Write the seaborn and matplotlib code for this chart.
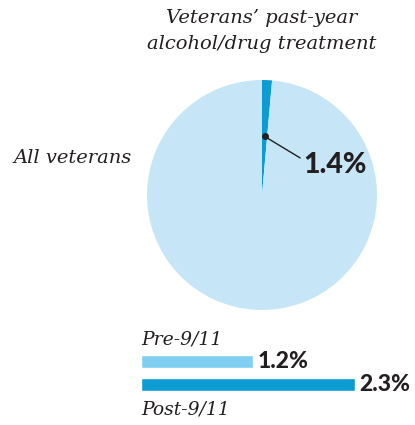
import numpy as np
import pandas as pd
import matplotlib
matplotlib.use("Agg")
import matplotlib.pyplot as plt
import seaborn as sns

# ---------------------------------------------------------------------------
# Data
# ---------------------------------------------------------------------------
PIE_LABELS = ["Treatment", "Other"]
PIE_VALUES = [1.4, 98.6]
BAR_GROUPS = ["Pre-9/11", "Post-9/11"]
BAR_VALUES = [1.2, 2.3]

TITLE      = "Veterans\u2019 past-year\nalcohol/drug treatment"
PIE_NAME   = "All veterans"

DARK   = "#0c9bd3"
LIGHT  = "#c6e6f8"
PRE    = "#7ecff2"
INK    = "#231f20"

W, H = 415, 425
SERIF = ["DejaVu Serif"]
BOLD  = ["Lato", "DejaVu Sans"]

sns.set_theme(style="white")
plt.rcParams["font.family"] = ["DejaVu Sans"]

fig = plt.figure(figsize=(W / 100, H / 100), dpi=100)


def px_axes(left, top, width, height):
    return fig.add_axes([left / W, (H - top - height) / H, width / W, height / H])


# ---------------------------------------------------------------------------
# Pie
# ---------------------------------------------------------------------------
cx, cy, r = 262, 195, 115
ax = px_axes(cx - r, cy - r, 2 * r, 2 * r)
ax.pie(PIE_VALUES, colors=[DARK, LIGHT], startangle=90, counterclock=False,
       radius=1, wedgeprops=dict(linewidth=0))
ax.set_xlim(-1, 1)
ax.set_ylim(-1, 1)
ax.set_aspect("equal")
ax.axis("off")

share = PIE_VALUES[0] / sum(PIE_VALUES)
mid = np.deg2rad(90 - 360 * share / 2)
dot = (0.51 * np.cos(mid), 0.51 * np.sin(mid))
ax.plot(*dot, "o", color=INK, ms=4, zorder=5)
ax.annotate(f"{PIE_VALUES[0]:.1f}%", xy=dot, xytext=(0.36, 0.26),
            fontsize=20.5, fontweight="black", family=BOLD, color=INK,
            va="center", ha="left",
            arrowprops=dict(arrowstyle="-", color=INK, lw=1,
                            shrinkA=0, shrinkB=0, relpos=(0, 0.7)))

fig.text(262 / W, 1 - 31 / H, TITLE, ha="center", va="center",
         fontsize=14, style="italic", family=SERIF, color=INK,
         linespacing=1.6)
fig.text(13 / W, 1 - 158 / H, PIE_NAME, ha="left", va="center",
         fontsize=14, style="italic", family=SERIF, color=INK)

# ---------------------------------------------------------------------------
# Bars
# ---------------------------------------------------------------------------
df = pd.DataFrame({"group": BAR_GROUPS, "value": BAR_VALUES})
bx = px_axes(141, 350, 279, 46)
sns.barplot(data=df, x="value", y="group", hue="group",
            palette=[PRE, DARK], orient="h", width=0.57, saturation=1,
            legend=False, ax=bx)
bx.set_xlim(0, 3)
bx.set_ylim(1.5, -0.5)
bx.axis("off")

for i, v in enumerate(BAR_VALUES):
    bx.text(v + 0.05, i, f"{v:.1f}%", ha="left", va="center",
            fontsize=16.5, fontweight="black", family=BOLD, color=INK)

bx.text(0, -0.55, BAR_GROUPS[0], ha="left", va="bottom", fontsize=13.5,
        style="italic", family=SERIF, color=INK, clip_on=False)
bx.text(0, 1.7, BAR_GROUPS[1], ha="left", va="top", fontsize=13.5,
        style="italic", family=SERIF, color=INK, clip_on=False)

fig.savefig("out.png", dpi=100)
